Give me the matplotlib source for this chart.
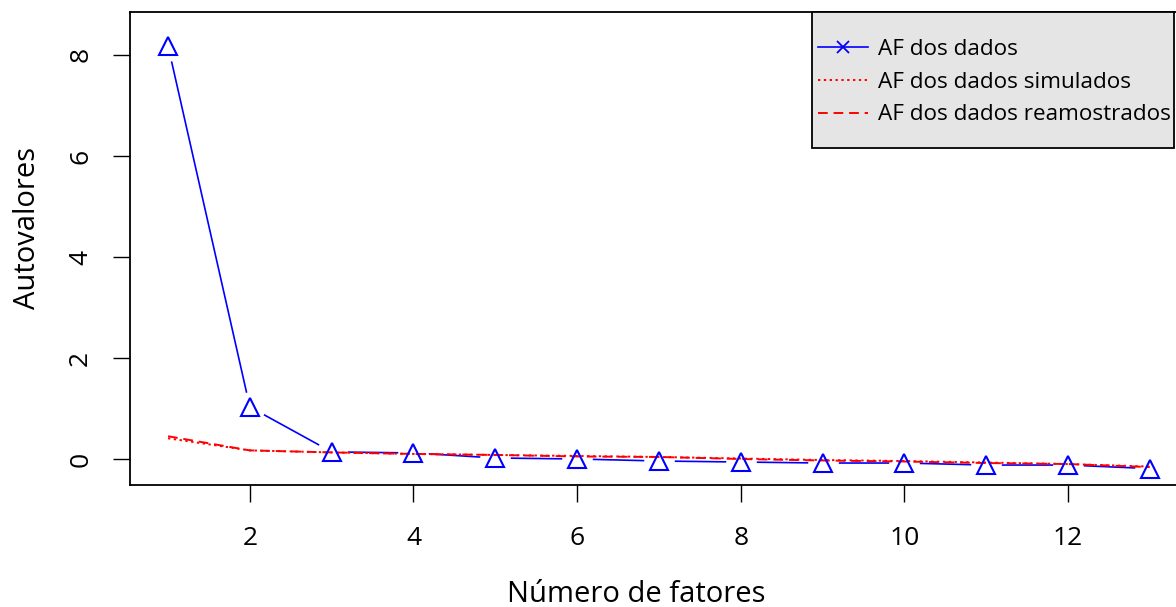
import matplotlib
matplotlib.use('Agg')
import matplotlib.pyplot as plt
from matplotlib.lines import Line2D
from matplotlib.patches import Rectangle

plt.rcParams['font.family'] = ['Open Sans', 'DejaVu Sans']

fatores = [1, 2, 3, 4, 5, 6, 7, 8, 9, 10, 11, 12, 13]
af_dados = [8.18, 1.03, 0.14, 0.12, 0.02, 0.00, -0.04, -0.06, -0.08, -0.08, -0.12, -0.12, -0.19]
af_simulados = [0.41, 0.17, 0.13, 0.10, 0.08, 0.06, 0.04, 0.01, -0.02, -0.04, -0.07, -0.10, -0.15]
af_reamostrados = [0.45, 0.17, 0.13, 0.10, 0.08, 0.05, 0.04, 0.00, -0.03, -0.05, -0.08, -0.10, -0.16]
xticks = [2, 4, 6, 8, 10, 12]
yticks = [0, 2, 4, 6, 8]
legend_labels = ['AF dos dados', 'AF dos dados simulados', 'AF dos dados reamostrados']

W, H = 1176, 607
fig = plt.figure(figsize=(W / 100, H / 100), dpi=100)
ax = fig.add_axes([130 / W, 122 / H, 1059 / W, 473 / H])

# R type="b": line with gaps around the points
ax.plot(fatores, af_dados, color='blue', lw=1.2, zorder=2)
ax.plot(fatores, af_dados, ls='none', marker='o', ms=22, mfc='white', mec='none', zorder=2.5)
ax.plot(fatores, af_simulados, color='red', ls=(0, (1.2, 1.8)), lw=1.4, zorder=3)
ax.plot(fatores, af_reamostrados, color='red', ls=(0, (5, 3)), lw=1.4, zorder=3)
ax.plot(fatores, af_dados, ls='none', marker='^', ms=13, mfc='none', mec='blue', mew=1.5, zorder=4)

ax.set_xlim(0.535, 13.48)
ax.set_ylim(-0.515, 8.85)
ax.set_xticks(xticks)
ax.set_yticks(yticks)
ax.tick_params(length=12.5, width=1, labelsize=19)
ax.tick_params(axis='x', pad=17)
ax.tick_params(axis='y', pad=14)
for lab in ax.get_yticklabels():
    lab.set_rotation(90)
    lab.set_va('center')
for s in ax.spines.values():
    s.set_linewidth(1.3)

ax.set_xlabel('Número de fatores', fontsize=21)
ax.xaxis.set_label_coords(0.478, -0.201)
ax.set_ylabel('Autovalores', fontsize=21)
ax.yaxis.set_label_coords(-0.083, 0.543)

# legend box (R style: tight sides, roomy top/bottom)
fig.add_artist(Rectangle((812 / W, 1 - 148 / H), 362 / W, 136 / H,
                         transform=fig.transFigure, facecolor='#e5e5e5',
                         edgecolor='black', lw=1.3, zorder=1))
handles = [
    Line2D([], [], color='blue', lw=1.2, marker='x', ms=9, mew=1.3),
    Line2D([], [], color='red', ls=(0, (1.2, 1.8)), lw=1.4),
    Line2D([], [], color='red', ls=(0, (5, 3)), lw=1.4),
]
leg = fig.legend(handles, legend_labels, loc='upper left',
                 bbox_to_anchor=(818 / W, 1 - 39 / H),
                 fontsize=16.2, handlelength=2.2, labelspacing=0.52,
                 borderpad=0, borderaxespad=0, handletextpad=0.45,
                 frameon=False)

fig.savefig('out.png', dpi=100)
